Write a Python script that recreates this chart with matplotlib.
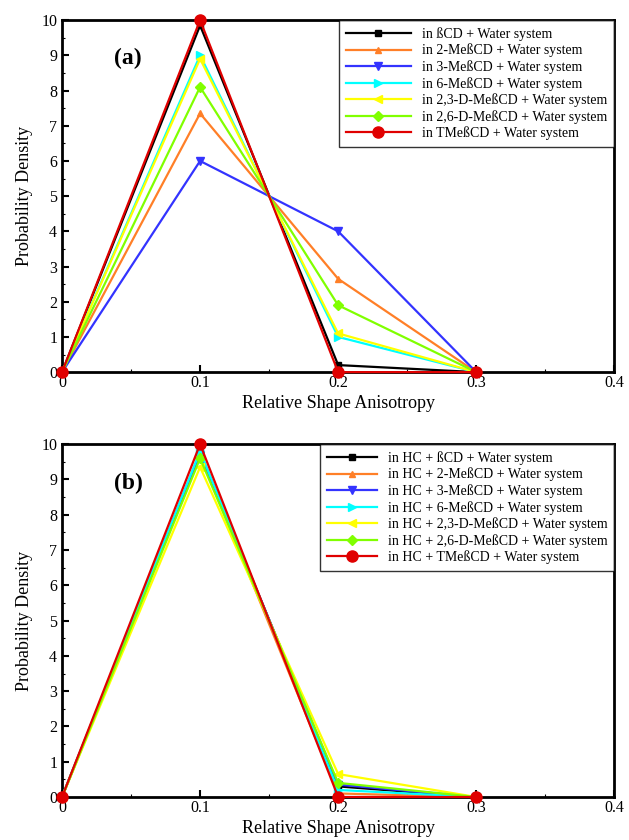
import matplotlib
matplotlib.use("Agg")
import matplotlib.pyplot as plt
from matplotlib.ticker import MultipleLocator, FixedLocator

plt.rcParams['font.family'] = ['Liberation Serif', 'DejaVu Serif']

# x positions (relative shape anisotropy)
x = [0.0, 0.1, 0.2, 0.3]

# panel (a): CD + water
a_bcd = [0.0, 9.85, 0.2, 0.0]
a_2me = [0.0, 7.35, 2.65, 0.0]
a_3me = [0.0, 6.0, 4.0, 0.0]
a_6me = [0.0, 9.0, 1.0, 0.0]
a_23d = [0.0, 8.9, 1.1, 0.0]
a_26d = [0.0, 8.1, 1.9, 0.0]
a_tme = [0.0, 10.0, 0.0, 0.0]

# panel (b): HC + CD + water
b_bcd = [0.0, 9.75, 0.3, 0.0]
b_2me = [0.0, 9.7, 0.1, 0.0]
b_3me = [0.0, 9.7, 0.35, 0.0]
b_6me = [0.0, 9.8, 0.2, 0.0]
b_23d = [0.0, 9.35, 0.65, 0.0]
b_26d = [0.0, 9.6, 0.4, 0.0]
b_tme = [0.0, 10.0, 0.0, 0.0]

hosts = ['ßCD', '2-MeßCD', '3-MeßCD', '6-MeßCD', '2,3-D-MeßCD', '2,6-D-MeßCD', 'TMeßCD']
colors = ['black', '#ff7f27', '#3333ff', '#00ffff', '#ffff00', '#80ff00', '#e00000']
markers = ['s', '^', 'v', '>', '<', 'D', 'o']
msizes = [5, 5, 6, 6, 6, 5, 8]

series_a = [a_bcd, a_2me, a_3me, a_6me, a_23d, a_26d, a_tme]
series_b = [b_bcd, b_2me, b_3me, b_6me, b_23d, b_26d, b_tme]
labels_a = ['in ' + h + ' + Water system' for h in hosts]
labels_b = ['in HC + ' + h + ' + Water system' for h in hosts]

fig = plt.figure(figsize=(6.29, 8.4), dpi=100)
ax1 = fig.add_axes([0.0986, 0.557, 0.878, 0.419])
ax2 = fig.add_axes([0.0986, 0.0512, 0.878, 0.420])


def draw(ax, series, labels, tag, handlelen):
    for ys, c, m, ms, lab in zip(series, colors, markers, msizes, labels):
        ax.plot(x, ys, color=c, marker=m, markersize=ms, lw=1.6,
                label=lab, clip_on=False, zorder=3)
    ax.set_xlim(0, 0.4)
    ax.set_ylim(0, 10)
    ax.xaxis.set_major_locator(FixedLocator([0, 0.1, 0.2, 0.3, 0.4]))
    ax.set_xticklabels(['0', '0.1', '0.2', '0.3', '0.4'])
    ax.xaxis.set_minor_locator(MultipleLocator(0.05))
    ax.yaxis.set_major_locator(MultipleLocator(1))
    ax.yaxis.set_minor_locator(MultipleLocator(0.5))
    ax.tick_params(which='both', direction='in', labelsize=11.5)
    ax.tick_params(axis='x', pad=2)
    ax.tick_params(which='major', length=5, width=1.5)
    ax.tick_params(which='minor', length=2.5, width=0.8)
    for s in ax.spines.values():
        s.set_linewidth(2)
    ax.set_ylabel('Probability Density', fontsize=13, labelpad=6)
    ax.set_xlabel('Relative Shape Anisotropy', fontsize=13, labelpad=3)
    ax.text(0.12, 0.89, tag, transform=ax.transAxes, fontsize=17,
            fontweight='bold', ha='center', va='center')
    leg = ax.legend(loc='upper right', bbox_to_anchor=(1.0, 1.0), fontsize=10,
                    frameon=True, fancybox=False, handlelength=handlelen,
                    borderaxespad=0, labelspacing=0.2, borderpad=0.5,
                    handletextpad=0.8)
    leg.get_frame().set_edgecolor('black')
    leg.get_frame().set_linewidth(1.0)


draw(ax1, series_a, labels_a, '(a)', 4.7)
draw(ax2, series_b, labels_b, '(b)', 3.6)

fig.savefig('out.png', dpi=100)
